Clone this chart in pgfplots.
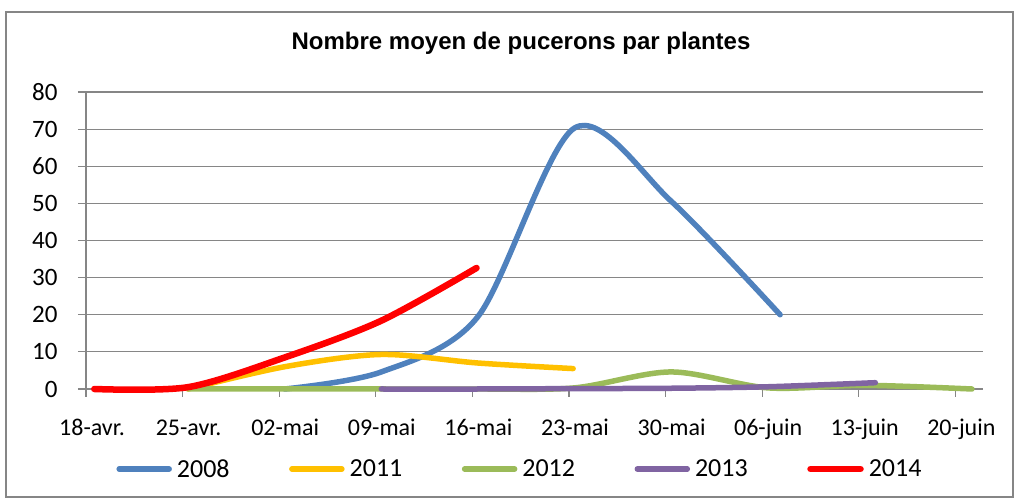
\documentclass[border=0pt]{standalone}
\usepackage{fontspec}
\setmainfont{Carlito}
\newfontfamily\titlefont{Liberation Sans}
\usepackage{pgfplots}
\pgfplotsset{compat=1.18}
\definecolor{c08}{HTML}{4F81BD}
\definecolor{c11}{HTML}{FFC000}
\definecolor{c12}{HTML}{9BBB59}
\definecolor{c13}{HTML}{8064A2}
\definecolor{c14}{HTML}{FF0000}
\definecolor{gridc}{HTML}{868686}
\begin{document}
\begin{tikzpicture}[x=1pt,y=1pt]
\useasboundingbox (-86,-111) rectangle (929,389);
\draw[gridc, line width=1.2pt] (-80,-108) rectangle (927,377);
\begin{axis}[
  at={(0,0)}, anchor=south west,
  scale only axis, width=897pt, height=297pt,
  xmin=0, xmax=65, ymin=0, ymax=80,
  clip=false,
  axis lines*=left,
  axis line style={gridc, line width=1.2pt},
  /pgf/number format/assume math mode=true,
  xtick={0,7,...,63},
  xticklabels={18-avr.,25-avr.,02-mai,09-mai,16-mai,23-mai,30-mai,06-juin,13-juin,20-juin},
  ytick={0,10,...,80},
  ymajorgrids, grid style={gridc, line width=1.2pt},
  tick align=outside, major tick length=8pt,
  tick style={gridc, line width=1.2pt},
  xticklabel style={font=\fontsize{24}{28}\selectfont, anchor=base, yshift=-39pt, xshift=6pt},
  yticklabel style={font=\fontsize{25}{30}\selectfont, anchor=east, xshift=-17pt},
  title={Nombre moyen de pucerons par plantes},
  title style={font=\titlefont\bfseries\fontsize{24}{28}\selectfont, anchor=base, at={(axis description cs:0.485,1.124)}},
  legend columns=5,
  legend style={at={(axis description cs:0.4838,-0.2694)}, anchor=center, draw=none, fill=none,
    font=\fontsize{26}{30}\selectfont,
    /tikz/every odd column/.append style={column sep=3pt},
    /tikz/every even column/.append style={column sep=57.5pt}},
  legend image code/.code={\draw[#1, line cap=round] (0pt,0pt) -- (50pt,0pt);},
  every axis plot/.append style={line width=5.5pt, line cap=round, line join=round, smooth, tension=0.5},
]
\addplot[c08] coordinates {(14.4,0) (21.4,4.6) (28.4,19.5) (35.4,70.3) (42.4,50.6) (50.3,20)};
\addlegendentry{2008}
\addplot[c11] coordinates {(7.4,0) (14.4,6) (21.4,9.3) (28.4,7) (35.3,5.5)};
\addlegendentry{2011}
\addplot[c12] coordinates {(7.4,0) (14.4,0) (21.4,0) (28.4,0) (35.4,0.3) (42.4,4.6) (49.4,0.3) (56.4,1) (64.2,0)};
\addlegendentry{2012}
\addplot[c13] coordinates {(21.4,0) (28.4,0) (35.4,0.1) (42.4,0.2) (49.4,0.6) (57.2,1.7)};
\addlegendentry{2013}
\addplot[c14, line width=6.5pt] coordinates {(0.6,0) (7.4,0.5) (14.4,8.5) (21.4,18.4) (28.3,32.6)};
\addlegendentry{2014}
\end{axis}
\end{tikzpicture}
\end{document}
